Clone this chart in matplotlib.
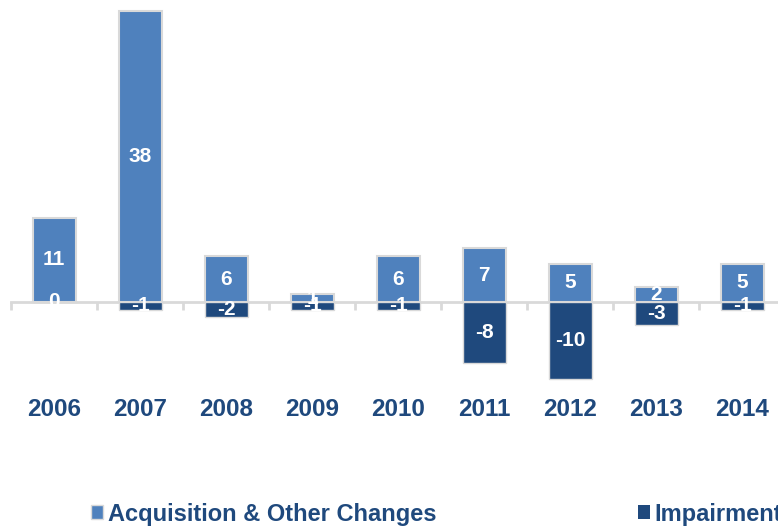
import matplotlib
matplotlib.use("Agg")
import matplotlib.pyplot as plt
from matplotlib.patches import Patch
import numpy as np

years = ["2006", "2007", "2008", "2009", "2010", "2011", "2012", "2013", "2014"]
acquisition = [11, 38, 6, 1, 6, 7, 5, 2, 5]
impairment = [0, -1, -2, -1, -1, -8, -10, -3, -1]

LIGHT = "#4F81BD"
DARK = "#1F497D"
EDGE = "#D9D9D9"
TEXT = "#1F497D"

plt.rcParams["font.family"] = ["Liberation Sans", "DejaVu Sans"]

W, H = 778, 527
fig = plt.figure(figsize=(W / 100, H / 100), dpi=100)
top_px, bot_px = 5, 390
ax = fig.add_axes([11 / W, 1 - bot_px / H, (W - 11) / W, (bot_px - top_px) / H])

ppu = (302 - 11) / 38.0

x = np.arange(len(years))
ax.bar(x, acquisition, width=0.5, color=LIGHT, edgecolor=EDGE, linewidth=1.5, zorder=2)
ax.bar(x, impairment, width=0.5, color=DARK, edgecolor=EDGE, linewidth=1.0, zorder=3)

for xi, a, m in zip(x, acquisition, impairment):
    ax.text(xi, a / 2, str(a), ha="center", va="center", color="white",
            fontsize=15, fontweight="bold", zorder=4)
    ax.text(xi, m / 2, str(m), ha="center", va="center", color="white",
            fontsize=15, fontweight="bold", zorder=4)

for s in ["top", "left", "right"]:
    ax.spines[s].set_visible(False)
ax.spines["bottom"].set_position(("data", 0))
ax.spines["bottom"].set_color(EDGE)
ax.spines["bottom"].set_linewidth(2)
ax.spines["bottom"].set_zorder(1)
ax.set_yticks([])
ax.set_xticks(x)
ax.set_xticklabels(years, fontsize=17.5, fontweight="bold", color=TEXT)
ax.tick_params(axis="x", which="major", length=0, pad=69)
ax.set_xticks(np.arange(-0.5, len(years), 1), minor=True)
ax.tick_params(axis="x", which="minor", length=6, width=2, color=EDGE, direction="out")

ax.set_ylim(-(bot_px - 302) / ppu, (302 - top_px) / ppu)
ax.set_xlim(-0.5, -0.5 + (W - 11) / 86.0)

handles = [Patch(facecolor=LIGHT, edgecolor=EDGE, linewidth=1),
           Patch(facecolor=DARK, edgecolor=DARK, linewidth=0)]
leg = fig.legend(handles, ["Acquisition & Other Changes", "Impairment"],
                 loc="center left", bbox_to_anchor=(70 / W, 1 - 514 / H),
                 ncol=2, frameon=False, handlelength=0.5, handleheight=0.5,
                 handletextpad=0.2, columnspacing=8.55,
                 prop={"size": 17, "weight": "bold"})
for t in leg.get_texts():
    t.set_color(TEXT)

fig.savefig("out.png", dpi=100)
